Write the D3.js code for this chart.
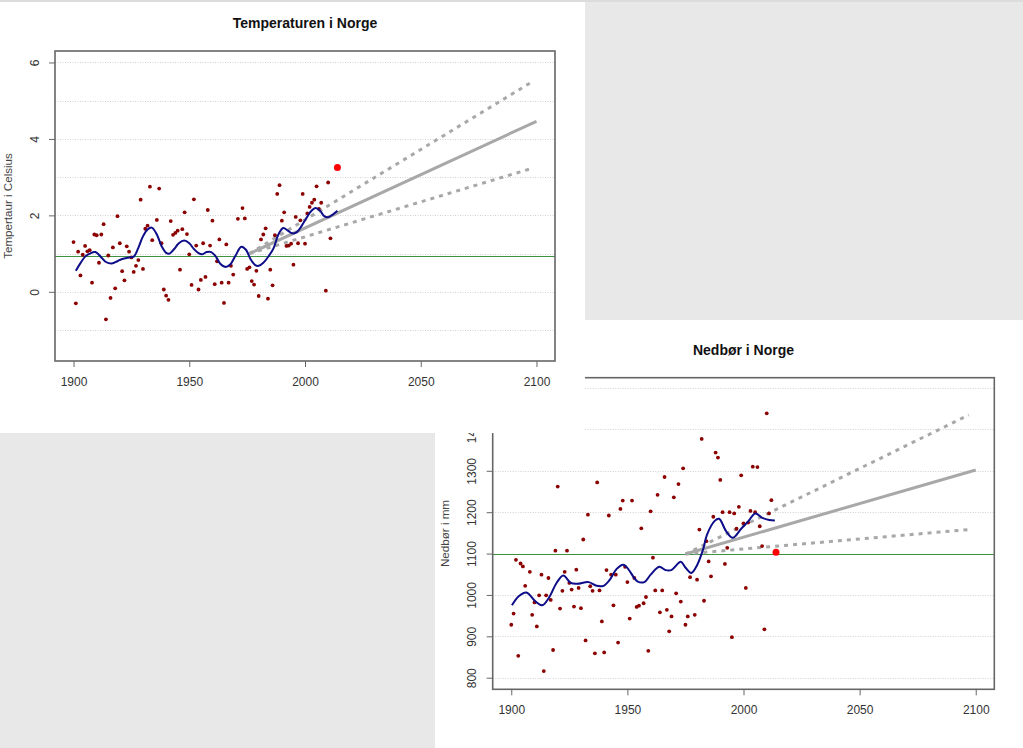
<!DOCTYPE html>
<html><head><meta charset="utf-8">
<script src="https://cdn.jsdelivr.net/npm/d3@7"></script>
<style>
body{margin:0;background:#e8e8e8;}
svg{display:block;font-family:"Liberation Sans",Arial,sans-serif;}
</style>
</head><body>
<svg id="c" width="1023" height="748"></svg>
<script>
// ---------- Temperature (Norway) ----------
const tempYears = [1900,1901,1902,1903,1904,1905,1906,1907,1908,1909,1910,1911,1912,1913,1914,1915,1916,1917,1918,1919,
  1920,1921,1922,1923,1924,1925,1926,1927,1928,1929,1930,1931,1932,1933,1934,1936,1937,1938,1939,
  1940,1941,1942,1943,1944,1945,1946,1947,1948,1949,1950,1951,1952,1953,1954,1955,1956,1957,1958,1959,
  1960,1961,1962,1963,1964,1965,1966,1967,1968,1969,1971,1973,1974,1975,1976,1977,1978,1979,
  1980,1981,1982,1983,1984,1985,1986,1987,1988,1989,1990,1991,1992,1993,1994,1995,1996,1997,1998,1999,
  2000,2001,2002,2003,2004,2005,2006,2007,2009,2010,2011];
const tempValues = [1.3,-0.3,1.05,0.43,0.97,1.2,1.06,1.09,0.24,1.5,1.48,0.76,1.5,1.77,-0.72,0.95,-0.16,1.16,0.09,1.98,
  1.27,0.54,0.3,1.19,1.05,0.9,0.52,0.68,0.83,2.41,0.6,1.65,1.73,2.75,1.35,1.88,2.7,1.27,0.06,
  -0.1,-0.21,1.85,1.49,1.54,1.6,0.58,1.64,2.08,1.51,0.98,0.18,2.42,1.21,0.06,0.31,1.27,0.39,2.14,1.21,
  1.86,0.2,0.8,1.37,0.24,-0.29,1.24,0.24,0.68,0.45,1.91,2.19,1.92,0.6,0.64,0.28,0.19,0.55,
  -0.11,1.37,1.5,1.66,-0.18,0.58,0.17,1.48,2.56,2.79,1.86,2.08,1.2,1.21,1.26,0.71,1.96,1.27,1.87,2.56,
  1.26,2.05,2.22,2.33,2.41,2.76,2.17,2.33,0.03,2.86,1.4];
const tempLastYear = 2014, tempLastValue = 3.25;
const tempSmoothYears = [1901,1903,1905,1907,1909.5,1912,1914,1916.5,1919,1921,1924,1926,1928,1930,1932,1933.8,1936,1938,1940,1941.5,
  1943.5,1945.5,1947.8,1950,1952,1954,1955.5,1957.5,1959.5,1961.5,1963.5,1965.8,1967.8,1970,1972.5,1974.5,1976.5,1978.5,1980,1982,
  1984.5,1986.5,1988.5,1990.6,1992.6,1994.5,1996.5,1998.5,2000.5,2002.5,2004.6,2006.5,2008.3,2010,2012,2014];
const tempSmoothValues = [0.55,0.75,0.92,1.0,1.04,0.9,0.78,0.74,0.8,0.86,0.9,0.92,1.15,1.45,1.63,1.68,1.5,1.2,1.02,1.0,
  1.12,1.27,1.34,1.27,1.12,1.01,0.98,1.04,1.04,0.92,0.73,0.65,0.72,0.95,1.18,1.1,0.85,0.7,0.68,0.76,
  0.95,1.15,1.5,1.67,1.6,1.53,1.56,1.72,1.92,2.1,2.19,2.12,1.98,1.95,2.02,2.12];
const tempNormal = 0.95;
const tempTrendYears = [1976, 2100], tempTrendValues = [1.0, 4.46];
const tempUpperYears = [1976, 2098], tempUpperValues = [1.0, 5.49];
const tempLowerYears = [1976, 2098], tempLowerValues = [1.0, 3.23];
const tempYTicks = [0, 2, 4, 6];
const tempGrid = [-1, 0, 1, 2, 3, 4, 5, 6];

// ---------- Precipitation (Norway) ----------
const precYears = [1900,1901,1902,1903,1904,1905,1906,1908,1909,1910,1911,1912,1913,1914,1915,1916,1917,1918,1919,
  1920,1921,1922,1923,1924,1925,1926,1927,1928,1929,1930,1931,1932,1933,1934,1935,1936,1937,1938,1939,
  1940,1941,1942,1943,1944,1945,1946,1947,1948,1949,1950,1951,1952,1953,1954,1955,1956,1957,1958,1959,
  1960,1961,1962,1963,1964,1965,1966,1967,1968,1969,1970,1971,1972,1973,1974,1975,1976,1977,1979,
  1980,1981,1982,1983,1984,1985,1986,1987,1988,1989,1990,1991,1992,1993,1994,1995,1996,1997,1998,1999,
  2000,2001,2002,2003,2004,2005,2006,2007,2008,2009,2010,2011,2012];
const precValues = [928,955,1085,853,1076,1069,1022,1056,952,982,924,999,1049,816,999,1041,988,867,1107,
  1262,967,1010,1056,1107,1029,1013,972,1061,1017,968,1134,890,1194,1021,1010,859,1272,1011,936,
  861,1060,1192,1049,975,1049,885,1208,1228,1068,1031,943,1228,1041,971,974,1161,980,995,865,
  1202,1090,1011,1242,958,1011,1285,964,912,948,1236,1004,1268,984,1306,928,948,1043,952,
  1037,1158,1377,986,1130,1081,1045,1189,1344,1332,1278,1200,1075,1114,1200,898,1197,1160,1213,1289,
  1173,1017,1175,1203,1310,1200,1309,1166,1118,917,1439,1197,1229];
const precLastYear = 2014, precLastValue = 1103;
const precSmoothYears = [1900.3,1903.2,1906.5,1910.5,1913.3,1916.2,1919.5,1922.4,1925.6,1928.4,1933.3,1936.8,1939.7,1942.2,1945.4,1948.3,
  1950.3,1954.3,1957.3,1960,1963.7,1966.5,1968.9,1973,1974.9,1977.5,1980,1982.6,1984.3,1987.6,1989.5,1992.5,1995.4,1999,2002.2,2005.1,2007.9,2011.1,2013.5];
const precSmoothValues = [975,997,1006,984,975,993,1029,1047,1029,1027,1031,1022,1022,1035,1063,1073,
  1063,1033,1031,1049,1068,1060,1060,1080,1067,1053,1072,1110,1146,1179,1184,1154,1138,1160,1179,1197,1187,1181,1180];
const precNormal = 1100;
const precTrendYears = [1975, 2100], precTrendValues = [1099, 1302];
const precUpperYears = [1975, 2097], precUpperValues = [1099, 1435];
const precLowerYears = [1975, 2097], precLowerValues = [1099, 1158];
const precYTicks = [800, 900, 1000, 1100, 1200, 1300, 1400, 1500];
const precGrid = [800, 900, 1000, 1100, 1200, 1300, 1400, 1500];

const xTicks = [1900, 1950, 2000, 2050, 2100];

const svg = d3.select("#c");

function drawChart(o) {
  const g = svg.append("g");
  g.append("rect").attr("x", o.panel[0]).attr("y", o.panel[1])
    .attr("width", o.panel[2]).attr("height", o.panel[3]).attr("fill", "#fff");
  const x = d3.scaleLinear().domain([1892, 2108]).range([o.box[0], o.box[1]]);
  const y = d3.scaleLinear().domain(o.yDomain).range([o.box[3], o.box[2]]);
  const L = o.box[0], R = o.box[1], T = o.box[2], B = o.box[3];

  // grid
  g.selectAll(".grid").data(o.grid).join("line")
    .attr("x1", L).attr("x2", R).attr("y1", d => Math.round(y(d)) + 0.5).attr("y2", d => Math.round(y(d)) + 0.5)
    .attr("stroke", "#d0d0d0").attr("stroke-width", 1).attr("stroke-dasharray", "1,1.5");

  // normal line
  const ny = Math.round(y(o.normal)) + 0.5;
  g.append("line").attr("x1", L).attr("x2", R).attr("y1", ny).attr("y2", ny)
    .attr("stroke", "#3e9140").attr("stroke-width", 1.2);

  const line = d3.line().x(d => x(d[0])).y(d => y(d[1]));
  // trend
  g.append("path").attr("d", line(d3.zip(o.trendX, o.trendY)))
    .attr("fill", "none").attr("stroke", "#a8a8a8").attr("stroke-width", 3);
  [[o.upX, o.upY], [o.loX, o.loY]].forEach(([xs, ys]) => {
    g.append("path").attr("d", line(d3.zip(xs, ys)))
      .attr("fill", "none").attr("stroke", "#a8a8a8").attr("stroke-width", 3)
      .attr("stroke-dasharray", "4,5");
  });

  // points
  g.selectAll(".pt").data(d3.zip(o.px, o.py)).join("circle")
    .attr("cx", d => x(d[0])).attr("cy", d => y(d[1])).attr("r", 1.9).attr("fill", "#8b0000");

  // smooth
  const sline = d3.line().x(d => x(d[0])).y(d => y(d[1])).curve(d3.curveCatmullRom.alpha(0.5));
  g.append("path").attr("d", sline(d3.zip(o.sx, o.sy)))
    .attr("fill", "none").attr("stroke", "#0d0d8a").attr("stroke-width", 2);

  // last point
  g.append("circle").attr("cx", x(o.lastX)).attr("cy", y(o.lastY)).attr("r", 3.5).attr("fill", "#ff0000");

  // box
  g.append("rect").attr("x", L).attr("y", T).attr("width", R - L).attr("height", B - T)
    .attr("fill", "none").attr("stroke", "#666").attr("stroke-width", 1.6);

  // x axis
  const xa = g.append("g").attr("transform", `translate(0,${B})`)
    .call(d3.axisBottom(x).tickValues(xTicks).tickFormat(d3.format("d")).tickSize(6).tickPadding(10.5));
  xa.select(".domain").remove();
  xa.selectAll("line").attr("stroke", "#666");
  xa.selectAll("text").attr("font-size", 12).attr("fill", "#333").attr("font-family", "Liberation Sans, Arial, sans-serif");

  // y axis
  const ya = g.append("g").attr("transform", `translate(${L},0)`)
    .call(d3.axisLeft(y).tickValues(o.yTicks).tickFormat(d3.format("d")).tickSize(6));
  ya.select(".domain").remove();
  ya.selectAll("line").attr("stroke", "#666");
  ya.selectAll("text").attr("x", 0).attr("y", 0).attr("dy", "0.35em").attr("text-anchor", "middle")
    .attr("transform", "translate(-20.5,0) rotate(-90)")
    .attr("font-size", 12).attr("fill", "#333").attr("font-family", "Liberation Sans, Arial, sans-serif");

  // title
  g.append("text").attr("x", (L + R) / 2).attr("y", o.titleY).attr("text-anchor", "middle")
    .attr("font-size", 14).attr("font-weight", "bold").attr("fill", "#111").text(o.title);
  // y label
  g.append("text").attr("transform", `translate(${o.ylabX},${(T + B) / 2}) rotate(-90)`)
    .attr("dy", "0.35em").attr("text-anchor", "middle").attr("font-size", 11.6).attr("fill", "#444")
    .text(o.ylab);
}

// chart 2 (behind)
drawChart({
  panel: [435, 320, 588, 428], box: [492.7, 994.3, 377.7, 689.3], yDomain: [772, 1525],
  grid: precGrid, normal: precNormal, yTicks: precYTicks,
  trendX: precTrendYears, trendY: precTrendValues, upX: precUpperYears, upY: precUpperValues,
  loX: precLowerYears, loY: precLowerValues, px: precYears, py: precValues,
  sx: precSmoothYears, sy: precSmoothValues, lastX: precLastYear, lastY: precLastValue,
  title: "Nedbør i Norge", titleY: 354.5, ylab: "Nedbør i mm", ylabX: 445
});
// chart 1 (front)
drawChart({
  panel: [0, 0, 585, 433], box: [55, 555, 51, 361], yDomain: [-1.81, 6.30],
  grid: tempGrid, normal: tempNormal, yTicks: tempYTicks,
  trendX: tempTrendYears, trendY: tempTrendValues, upX: tempUpperYears, upY: tempUpperValues,
  loX: tempLowerYears, loY: tempLowerValues, px: tempYears, py: tempValues,
  sx: tempSmoothYears, sy: tempSmoothValues, lastX: tempLastYear, lastY: tempLastValue,
  title: "Temperaturen i Norge", titleY: 28, ylab: "Tempertaur i Celsius", ylabX: 8
});
svg.append("rect").attr("x", 0).attr("y", 0).attr("width", 1023).attr("height", 2).attr("fill", "#dcdcdc");
</script>
</body></html>
